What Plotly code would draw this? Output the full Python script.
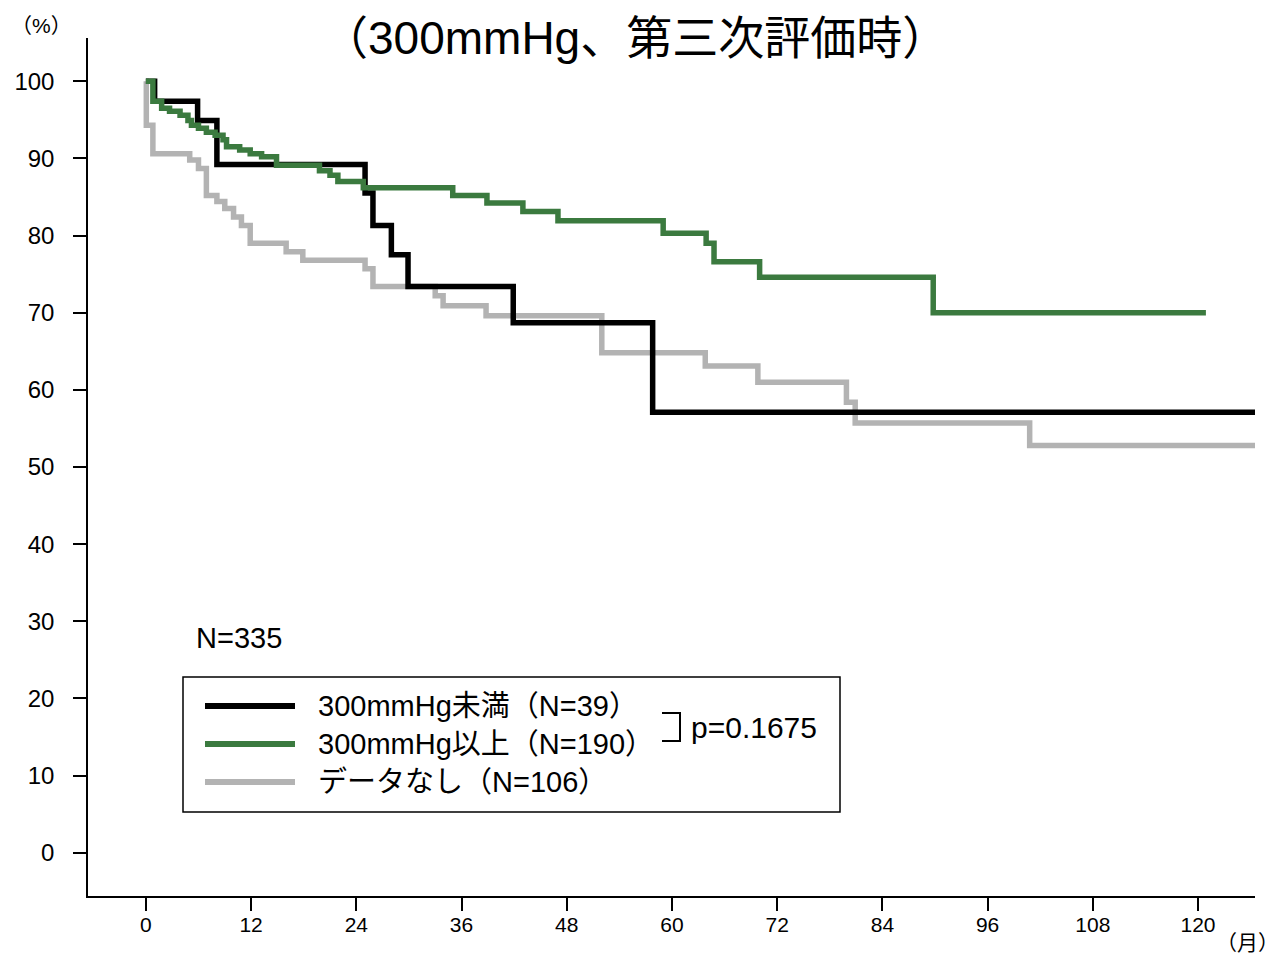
import plotly.graph_objects as go

# ---- data (months, survival %) ----
names = ["300mmHg未満（N=39）", "300mmHg以上（N=190）", "データなし（N=106）"]
colors = ["#000000", "#3b7a3f", "#b3b3b3"]

black_t = [0, 1.0, 5.9, 8.1, 25.0, 25.9, 28.0, 29.9, 41.9, 57.8, 126.5]
black_s = [100, 97.4, 94.9, 89.2, 85.5, 81.3, 77.5, 73.4, 68.7, 57.1, 57.1]

green_t = [0, 0.8, 1.8, 2.7, 3.9, 4.8, 5.2, 6.0, 6.9, 7.9, 8.8, 9.2, 10.7, 11.9, 13.2,
           14.9, 19.8, 21.0, 21.9, 24.8, 35.0, 38.9, 43.0, 47.0, 59.0, 63.9, 64.8,
           70.0, 89.8, 120.9]
green_s = [100, 97.4, 96.5, 96.1, 95.6, 94.9, 94.3, 93.9, 93.4, 93.0, 92.4, 91.5, 91.1, 90.6, 90.2,
           89.1, 88.4, 87.8, 87.0, 86.2, 85.2, 84.2, 83.1, 81.9, 80.3, 79.0, 76.6,
           74.6, 70.0, 70.0]

gray_t = [0, 0.05, 0.8, 5.0, 6.0, 6.9, 8.1, 9.0, 10.0, 10.9, 11.9, 16.0, 17.9, 25.0, 25.9,
          33.0, 33.9, 38.8, 52.0, 63.8, 69.8, 79.9, 80.9, 100.8, 126.5]
gray_s = [100, 94.3, 90.6, 89.8, 88.7, 85.2, 84.4, 83.5, 82.4, 81.3, 79.0, 77.9, 76.8, 75.7, 73.4,
          72.2, 70.9, 69.6, 64.8, 63.1, 61.0, 58.4, 55.7, 52.8, 52.8]

x_ticks = [0, 12, 24, 36, 48, 60, 72, 84, 96, 108, 120]
y_ticks = [0, 10, 20, 30, 40, 50, 60, 70, 80, 90, 100]

title_text = "（300mmHg、第三次評価時）"
n_text = "N=335"
p_text = "p=0.1675"
y_unit = "（%）"
x_unit = "（月）"

FONT = "Liberation Sans, Arial, Noto Sans CJK JP, sans-serif"

# ---- figure geometry (page has an 8px body margin) ----
OFF = 8
W, H = 1282 - OFF, 953 - OFF
L, T = 88 - OFF, 38 - OFF
R = W - (1255 - OFF)
B = H - (896 - OFF)
PW, PH = W - L - R, H - T - B


def px(x):
    return (x - OFF - L) / PW


def py(y):
    return (T + PH - (y - OFF)) / PH


fig = go.Figure()
# gray first, then black, then green on top
for t, s, c, n in [(gray_t, gray_s, colors[2], names[2]),
                   (black_t, black_s, colors[0], names[0]),
                   (green_t, green_s, colors[1], names[1])]:
    fig.add_trace(go.Scatter(x=t, y=s, mode="lines", name=n,
                             line=dict(color=c, width=5.5, shape="hv"),
                             showlegend=False, hoverinfo="skip"))

fig.update_layout(
    width=W, height=H,
    margin=dict(l=L, r=R, t=T, b=B, autoexpand=False),
    paper_bgcolor="white", plot_bgcolor="white",
    font=dict(family=FONT, color="black"),
    showlegend=False,
)
fig.update_xaxes(range=[-6.6, 126.5], tickvals=x_ticks, ticktext=[str(v) for v in x_ticks],
                 showgrid=False, zeroline=False, showline=True, linecolor="black", linewidth=1.5,
                 ticks="outside", ticklen=13, tickwidth=2, tickcolor="black", automargin=False,
                 tickfont=dict(size=21, family=FONT), ticklabelstandoff=-4)
fig.update_yaxes(range=[-5.6, 105.6], tickvals=y_ticks, ticktext=[str(v) for v in y_ticks],
                 showgrid=False, zeroline=False, showline=True, linecolor="black", linewidth=1.5,
                 ticks="outside", ticklen=13, tickwidth=2, tickcolor="black", automargin=False,
                 tickfont=dict(size=24, family=FONT), ticklabelstandoff=14)

ann = []
ann.append(dict(text=title_text, xref="paper", yref="paper", x=px(635), y=py(38),
                xanchor="center", yanchor="middle", showarrow=False,
                font=dict(size=46, family=FONT)))
ann.append(dict(text=y_unit, xref="paper", yref="paper", x=px(9), y=py(25),
                xanchor="left", yanchor="middle", showarrow=False,
                font=dict(size=21, family=FONT)))
ann.append(dict(text=x_unit, xref="paper", yref="paper", x=px(1281), y=py(942),
                xanchor="right", yanchor="middle", showarrow=False,
                font=dict(size=21, family=FONT)))
ann.append(dict(text=n_text, xref="paper", yref="paper", x=px(194), y=py(638),
                xanchor="left", yanchor="middle", showarrow=False,
                font=dict(size=29, family=FONT)))

shapes = []
shapes.append(dict(type="rect", xref="paper", yref="paper",
                   x0=px(183), x1=px(840), y0=py(812), y1=py(677),
                   line=dict(color="black", width=1.5), fillcolor="rgba(0,0,0,0)"))
rows = [706, 744, 782]
for name, c, ry in zip(names, colors, rows):
    shapes.append(dict(type="line", xref="paper", yref="paper",
                       x0=px(205), x1=px(295), y0=py(ry), y1=py(ry),
                       line=dict(color=c, width=6)))
    ann.append(dict(text=name, xref="paper", yref="paper", x=px(316), y=py(ry),
                    xanchor="left", yanchor="middle", showarrow=False,
                    font=dict(size=29, family=FONT)))
shapes.append(dict(type="path", xref="paper", yref="paper",
                   path=f"M {px(662)} {py(713)} L {px(680)} {py(713)} L {px(680)} {py(741)} L {px(662)} {py(741)}",
                   line=dict(color="black", width=2)))
ann.append(dict(text=p_text, xref="paper", yref="paper", x=px(689), y=py(727),
                xanchor="left", yanchor="middle", showarrow=False,
                font=dict(size=30, family=FONT)))

fig.update_layout(annotations=ann, shapes=shapes)
fig.write_html("out.html")
